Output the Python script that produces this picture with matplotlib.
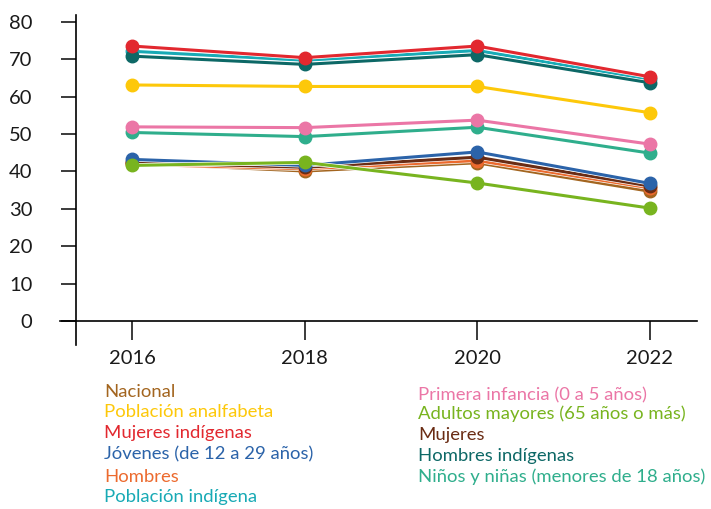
import matplotlib.pyplot as plt
import matplotlib.patheffects as pe

plt.rcParams['font.family'] = ['Lato', 'DejaVu Sans']

years = [2016, 2018, 2020, 2022]

nacional = [42.2, 40.1, 42.3, 34.7]
analfabeta = [63.1, 62.7, 62.7, 55.7]
mujeres_indigenas = [73.5, 70.4, 73.5, 65.3]
jovenes = [43.2, 41.6, 45.2, 36.8]
hombres = [41.9, 40.7, 42.9, 35.6]
poblacion_indigena = [72.1, 69.7, 72.3, 64.6]
primera_infancia = [51.9, 51.7, 53.7, 47.3]
adultos_mayores = [41.6, 42.4, 36.9, 30.2]
mujeres = [42.4, 41.1, 43.8, 36.1]
hombres_indigenas = [70.8, 68.6, 71.2, 63.7]
ninos = [50.4, 49.3, 51.8, 44.9]

# (label, values, colour) in legend order
series = [
    ('Nacional', nacional, '#a3651f'),
    ('Población analfabeta', analfabeta, '#fdc80a'),
    ('Mujeres indígenas', mujeres_indigenas, '#e2282f'),
    ('Jóvenes (de 12 a 29 años)', jovenes, '#2b63a9'),
    ('Hombres', hombres, '#ec6a2e'),
    ('Población indígena', poblacion_indigena, '#18aab5'),
    ('Primera infancia (0 a 5 años)', primera_infancia, '#eb76a6'),
    ('Adultos mayores (65 años o más)', adultos_mayores, '#78b41f'),
    ('Mujeres', mujeres, '#6a2c14'),
    ('Hombres indígenas', hombres_indigenas, '#0d6866'),
    ('Niños y niñas (menores de 18 años)', ninos, '#2fae8c'),
]

# drawing order (last on top)
draw_order = [0, 4, 8, 5, 9, 2, 1, 10, 6, 3, 7]

fig = plt.figure(figsize=(7.11, 5.09), dpi=100)
ax = fig.add_axes([60 / 711, 1 - 345 / 509, 637 / 711, 330 / 509])

for i in draw_order:
    label, vals, col = series[i]
    ax.plot(years, vals, color=col, lw=2.2, solid_capstyle='round',
            path_effects=[pe.Stroke(linewidth=3.2, foreground='white'), pe.Normal()])
    ax.plot(years, vals, 'o', color=col, ms=9, ls='none')

ax.set_xlim(2015.16, 2022.55)
ax.set_ylim(-6.4, 81.8)
ax.spines['top'].set_visible(False)
ax.spines['right'].set_visible(False)
ax.spines['bottom'].set_position(('data', 0))
ax.spines['left'].set_position(('data', 2015.34))
ax.spines['bottom'].set_linewidth(1.2)
ax.spines['left'].set_linewidth(1.2)

ax.set_yticks(range(0, 81, 10))
ax.set_xticks(years)
ax.tick_params(axis='y', direction='out', length=11, width=1.2, pad=20,
               labelsize=14.5, colors='#1a1a1a')
ax.tick_params(axis='x', direction='out', length=14, width=1.2, pad=7,
               labelsize=14.5, colors='#1a1a1a')

left_y = [392, 412, 433, 454, 477, 497]
right_y = [395, 414, 435, 456, 477]
for k, (label, vals, col) in enumerate(series):
    if k < 6:
        fig.text(104 / 711, 1 - left_y[k] / 509, label, color=col,
                 fontsize=13.3, va='center', ha='left')
    else:
        fig.text(418 / 711, 1 - right_y[k - 6] / 509, label, color=col,
                 fontsize=13.3, va='center', ha='left')

fig.savefig('out.png', dpi=100)
